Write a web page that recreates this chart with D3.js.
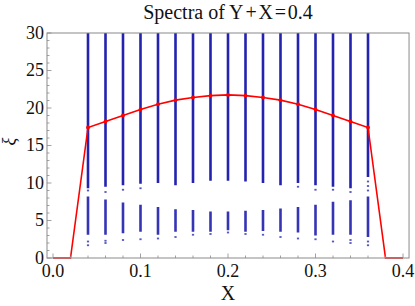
<!DOCTYPE html>
<html><head><meta charset="utf-8">
<script src="https://cdn.jsdelivr.net/npm/d3@7"></script>
<style>body{margin:0;background:#fff}svg{display:block}</style>
</head><body><svg id="c" width="415" height="306"></svg>
<script>
const titleParts = ["Spectra of Y", "+", "X", "=", "0.4"];
const xLabel = "X";
const yLabel = "ξ";
const xTicks = [0.0, 0.1, 0.2, 0.3, 0.4];
const yTicks = [0, 5, 10, 15, 20, 25, 30];
const columnsX = [0.04,0.06,0.08,0.10,0.12,0.14,0.16,0.18,0.20,0.22,0.24,0.26,0.28,0.30,0.32,0.34,0.36];
const upperLo = [9.3,9.5,9.7,9.9,10.0,9.7,10.0,10.3,10.3,10.2,10.0,9.7,10.0,9.7,9.5,9.3,10.8];
const upperDots = [[9.0],[8.8],[9.1],[9.3],[],[],[],[],[],[],[],[],[9.5],[9.1],[9.1],[8.8],[10.2,9.6,9.0]];
const lowerHi = [8.2,7.8,7.4,7.1,6.8,6.5,6.4,6.2,6.2,6.3,6.4,6.6,6.8,7.1,7.5,7.7,8.2];
const lowerLo = [3.1,3.1,3.3,3.5,3.1,3.5,3.5,3.5,3.7,3.5,3.6,3.5,3.4,3.0,3.1,3.1,2.8];
const lowerDots = [[2.2,1.7],[2.3,2.0],[2.4],[2.5],[2.6],[2.8],[3.1],[3.2],[3.4],[3.2],[3.1],[2.8],[2.6],[2.5],[2.2],[2.4,2.0],[2.2,1.7]];
const redX = [0.0,0.02,0.04,0.06,0.08,0.10,0.12,0.14,0.16,0.18,0.20,0.22,0.24,0.26,0.28,0.30,0.32,0.34,0.36,0.38,0.40];
const redY = [0,0,17.4,18.2,19.0,19.8,20.5,21.05,21.4,21.65,21.75,21.65,21.4,21.05,20.5,19.8,19.0,18.2,17.4,0,0];

const FONT = "'Liberation Serif','Times New Roman','DejaVu Serif',serif";
const svg = d3.select("#c");
const x = d3.scaleLinear().domain([0,0.4]).range([53,403]);
const y = d3.scaleLinear().domain([0,30]).range([258,33]);
const fx0 = x(-0.00686), fx1 = x(0.4069), fy0 = y(0), fy1 = y(30);
const blue = "#1010a8";

const plot = svg.append("g");
columnsX.forEach((cx,i)=>{
  plot.append("rect").attr("x",x(cx)-1.3).attr("width",2.6)
    .attr("y",y(30)).attr("height",y(upperLo[i])-y(30)).attr("fill",blue).attr("opacity",0.92);
  plot.append("rect").attr("x",x(cx)-1.3).attr("width",2.6)
    .attr("y",y(lowerHi[i])).attr("height",y(lowerLo[i])-y(lowerHi[i])).attr("fill",blue).attr("opacity",0.85);
  upperDots[i].concat(lowerDots[i]).forEach(v=>{
    plot.append("rect").attr("x",x(cx)-1.1).attr("width",2.2)
      .attr("y",y(v)-0.9).attr("height",1.8).attr("fill",blue).attr("opacity",0.7);
  });
});

const line = d3.line().x((d,i)=>x(redX[i])).y(d=>y(d));
plot.append("path").datum(redY).attr("d",line).attr("fill","none").attr("stroke","#ff0000").attr("stroke-width",1.6);
plot.selectAll("circle.r").data(redY.slice(2,19)).join("circle")
  .attr("cx",(d,i)=>x(redX[i+2])).attr("cy",d=>y(d)).attr("r",1.9).attr("fill","#ff0000");

svg.append("rect").attr("x",fx0).attr("y",fy1).attr("width",fx1-fx0).attr("height",fy0-fy1)
  .attr("fill","none").attr("stroke","#8a8a8a").attr("stroke-width",1);

const axes = svg.append("g");
d3.range(0,31,1).forEach(v=>{
  const major = v%5===0;
  axes.append("line").attr("x1",fx0).attr("x2",fx0+(major?4.5:2.5)).attr("y1",y(v)).attr("y2",y(v))
    .attr("stroke","#8a8a8a").attr("stroke-width",0.8);
});
yTicks.forEach(v=>{
  axes.append("text").attr("x",fx0-3).attr("y",y(v)).attr("dy","0.33em").attr("text-anchor","end")
    .style("font-family",FONT).attr("font-size",18).attr("fill","#111").text(v);
});
d3.range(0,21,1).forEach(k=>{
  const v=k*0.02, major = k%5===0;
  axes.append("line").attr("x1",x(v)).attr("x2",x(v)).attr("y1",fy0).attr("y2",fy0-(major?4.5:2.5))
    .attr("stroke","#8a8a8a").attr("stroke-width",0.8);
});
xTicks.forEach(v=>{
  axes.append("text").attr("x",x(v)).attr("y",fy0+19).attr("text-anchor","middle")
    .style("font-family",FONT).attr("font-size",18).attr("fill","#111").text(d3.format(".1f")(v));
});

const t = svg.append("text").attr("x",(fx0+fx1)/2).attr("y",19).attr("text-anchor","middle")
  .style("font-family",FONT).attr("font-size",20).attr("fill","#111");
titleParts.forEach((p,i)=>t.append("tspan").attr("dx",i===0?0:1.8).text(p));
svg.append("text").attr("x",x(0.2)).attr("y",300).attr("text-anchor","middle")
  .style("font-family",FONT).attr("font-size",20).attr("fill","#111").text(xLabel);
svg.append("text").attr("transform",`translate(15,${y(15.5)}) rotate(-90)`).attr("text-anchor","middle")
  .style("font-family",FONT).attr("font-size",18).attr("font-style","italic").attr("fill","#111").text(yLabel);
</script></body></html>
